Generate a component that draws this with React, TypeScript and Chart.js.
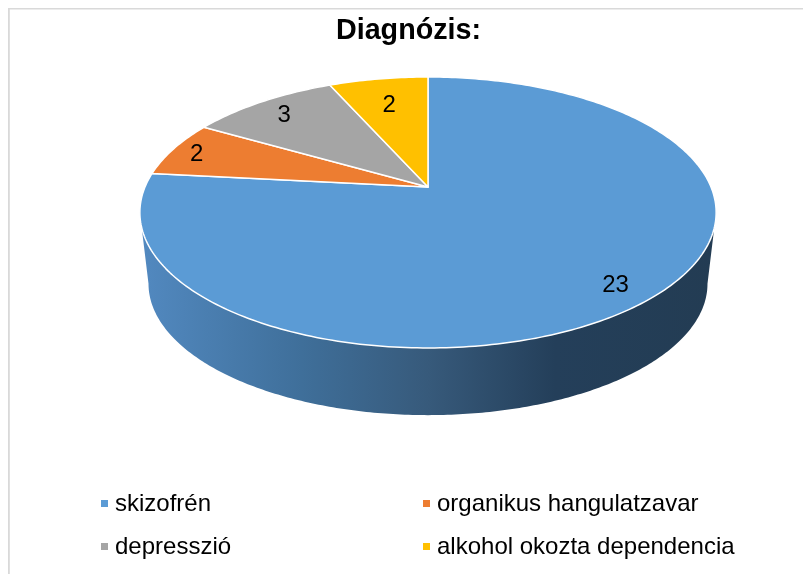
import React, { useEffect, useRef } from "react";
import { Chart, registerables } from "chart.js";

Chart.register(...registerables);

const categories = ["skizofrén", "organikus hangulatzavar", "depresszió", "alkohol okozta dependencia"];
const counts = [23, 2, 3, 2];
const sliceColors = ["#5b9bd5", "#ed7d31", "#a5a5a5", "#ffc000"];
const chartTitle = "Diagnózis:";

const FONT = "'Liberation Sans', Arial, sans-serif";

// perspective pie layout
const view = { cx: 428, cy: 187, a: 283, b: 130.7, k: 0.188, depth: 72, lowerScale: 0.97 };
const labelRadius = [0.87, 0.905, 0.85, 0.75];
const labelDrop = 2.5;
const legendLayout = { cols: [101, 423], rows: [500, 543], box: 7, textGap: 7, baseline: 11 };

const project = (angle: number, r = 1, lower = false) => {
  const x = Math.cos(angle) * r;
  const y = Math.sin(angle) * r;
  const s = 1 / (1 - view.k * y);
  const m = lower ? view.lowerScale : 1;
  return {
    x: view.cx + view.a * x * s * m,
    y: view.cy + (lower ? view.depth : 0) + view.b * y * s * m,
  };
};

const pie3d = {
  id: "pie3d",
  beforeDraw(chart: any) {
    const { ctx, width, height } = chart;
    ctx.save();
    ctx.fillStyle = "#ffffff";
    ctx.fillRect(0, 0, width, height);
    ctx.fillStyle = "#d9d9d9";
    ctx.fillRect(8, 8, width - 8, 1.5);
    ctx.fillRect(8, 8, 1.8, height - 8);
    ctx.restore();
  },
  beforeDatasetsDraw(chart: any) {
    const { ctx } = chart;
    const meta = chart.getDatasetMeta(0);
    ctx.save();

    // side wall: from the widest point on the left, round the front, to the right
    const wide = Math.asin(view.k);
    const grad = ctx.createLinearGradient(140, 0, 716, 0);
    grad.addColorStop(0, "#5289c0");
    grad.addColorStop(0.28, "#3f6f9a");
    grad.addColorStop(0.5, "#375a7b");
    grad.addColorStop(0.72, "#243f5a");
    grad.addColorStop(1, "#233c53");
    ctx.beginPath();
    const u0 = project(Math.PI - wide);
    ctx.moveTo(u0.x, u0.y);
    const N = 240;
    const tStart = Math.PI - wide;
    const tEnd = wide;
    for (let i = 0; i <= N; i++) {
      const p = project(tStart + ((tEnd - tStart) * i) / N, 1, true);
      ctx.lineTo(p.x, p.y);
    }
    const u1 = project(wide);
    ctx.lineTo(u1.x, u1.y);
    ctx.closePath();
    ctx.fillStyle = grad;
    ctx.fill();

    // top face, one slice per arc element
    meta.data.forEach((arc: any, i: number) => {
      const { startAngle, endAngle } = arc.getProps(["startAngle", "endAngle"], true);
      const steps = Math.max(8, Math.ceil((endAngle - startAngle) * 60));
      ctx.beginPath();
      ctx.moveTo(view.cx, view.cy);
      for (let s = 0; s <= steps; s++) {
        const p = project(startAngle + ((endAngle - startAngle) * s) / steps);
        ctx.lineTo(p.x, p.y);
      }
      ctx.closePath();
      ctx.fillStyle = sliceColors[i];
      ctx.fill();
      ctx.strokeStyle = "#ffffff";
      ctx.lineWidth = 1.5;
      ctx.lineJoin = "round";
      ctx.stroke();
    });

    // value labels
    ctx.fillStyle = "#000000";
    ctx.font = `24px ${FONT}`;
    ctx.textAlign = "center";
    ctx.textBaseline = "middle";
    meta.data.forEach((arc: any, i: number) => {
      const { startAngle, endAngle } = arc.getProps(["startAngle", "endAngle"], true);
      const p = project((startAngle + endAngle) / 2, labelRadius[i]);
      ctx.fillText(String(counts[i]), p.x, p.y + labelDrop);
    });

    // two-column legend
    ctx.textAlign = "left";
    ctx.textBaseline = "alphabetic";
    categories.forEach((label, i) => {
      const x = legendLayout.cols[i % 2];
      const y = legendLayout.rows[Math.floor(i / 2)];
      ctx.fillStyle = sliceColors[i];
      ctx.fillRect(x, y, legendLayout.box, legendLayout.box);
      ctx.fillStyle = "#000000";
      ctx.fillText(label, x + legendLayout.box + legendLayout.textGap, y + legendLayout.baseline);
    });
    ctx.restore();
    return false;
  },
};

export default function App() {
  const ref = useRef<HTMLCanvasElement | null>(null);
  useEffect(() => {
    if (!ref.current) return;
    const chart = new Chart(ref.current, {
      type: "pie",
      data: {
        labels: categories,
        datasets: [{ data: counts, backgroundColor: sliceColors }],
      },
      options: {
        responsive: false,
        animation: false,
        layout: { padding: { left: 14 } },
        plugins: {
          legend: { display: false },
          tooltip: { enabled: false },
          title: {
            display: true,
            text: chartTitle,
            color: "#000000",
            font: { family: FONT, size: 28.7, weight: "bold" },
            padding: { top: 14, bottom: 10 },
          },
        },
      },
      plugins: [pie3d],
    } as any);
    return () => chart.destroy();
  }, []);
  return (
    <canvas
      ref={ref}
      width={803}
      height={574}
      style={{ position: "fixed", left: 0, top: 0, width: 803, height: 574, display: "block" }}
    />
  );
}
